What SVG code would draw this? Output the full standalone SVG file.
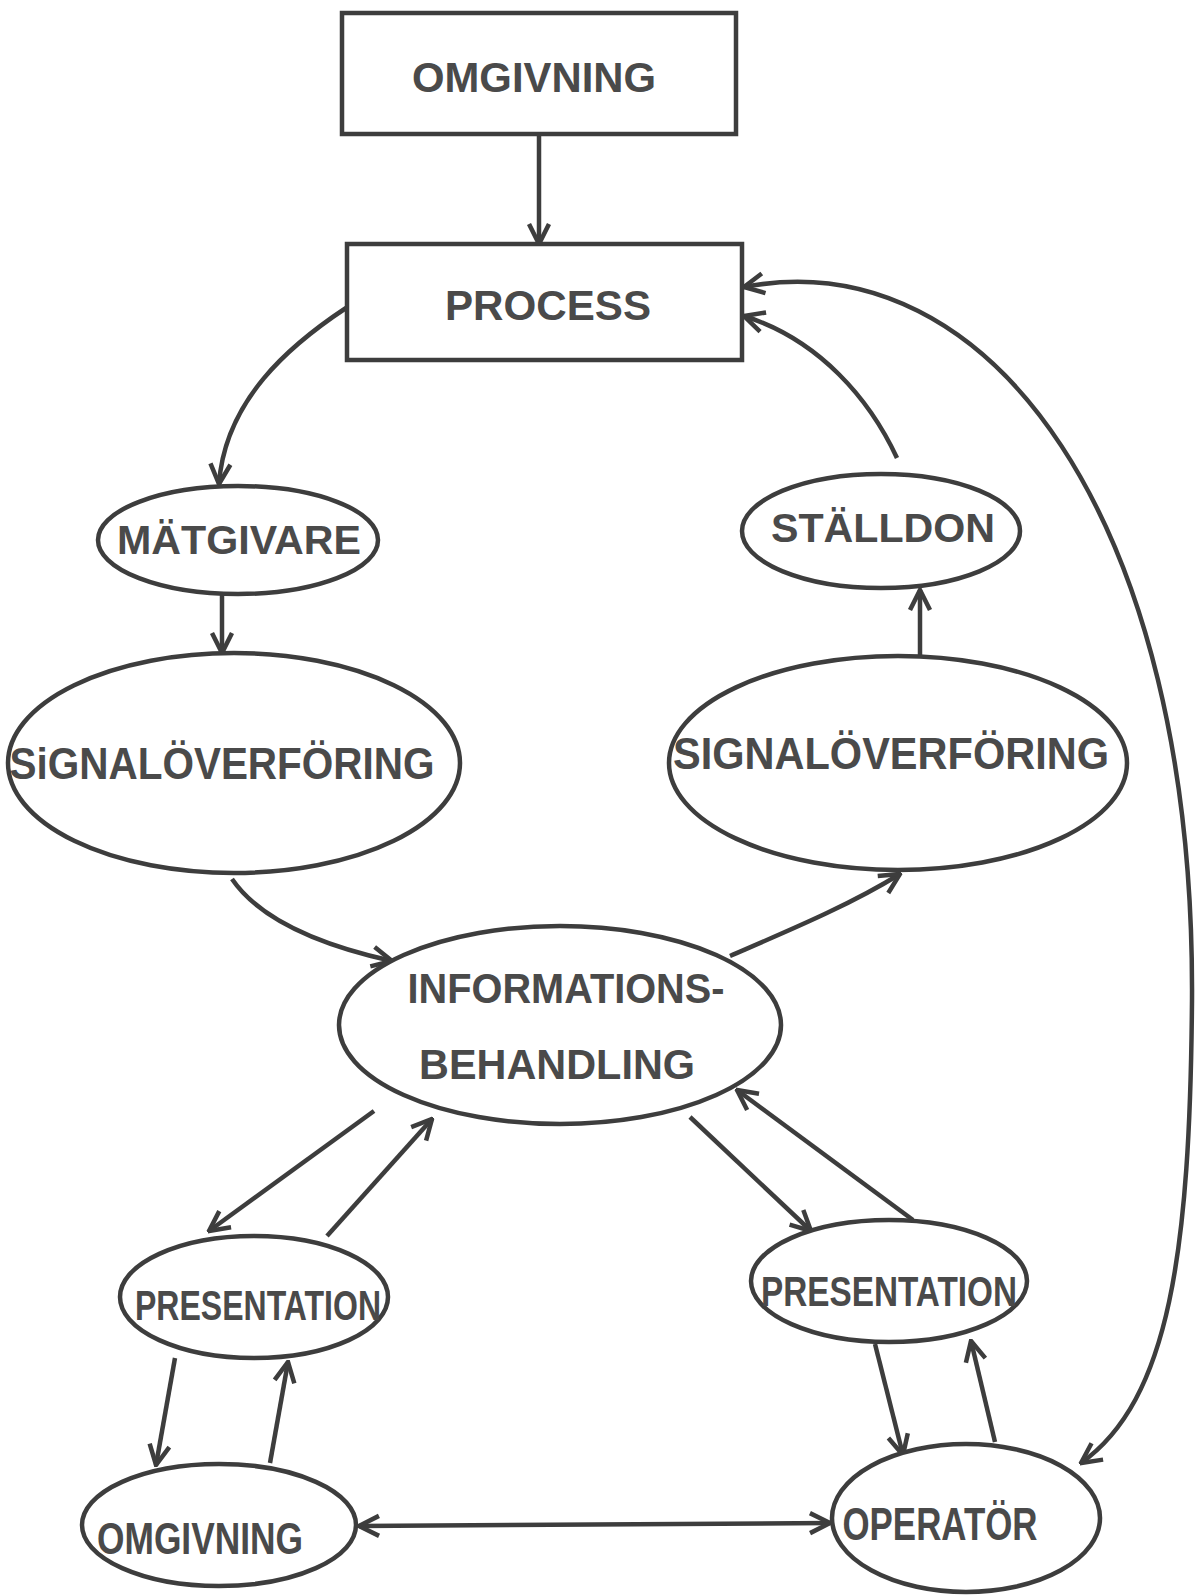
<svg xmlns="http://www.w3.org/2000/svg" width="1195" height="1595" viewBox="0 0 1195 1595">
<style>
.n{fill:#fff;stroke:#3d3d3d;stroke-width:4.5}
.t{font-family:"Liberation Sans",Arial,sans-serif;font-weight:bold;fill:#4a4a4a;text-anchor:middle}
.c{fill:none;stroke:#3d3d3d;stroke-width:4.5}
</style>
<defs>
<marker id="arr" viewBox="0 0 26 26" refX="24" refY="13" markerWidth="26" markerHeight="26" markerUnits="userSpaceOnUse" orient="auto-start-reverse">
<path d="M4,3 L24,13 L4,23" fill="none" stroke="#3d3d3d" stroke-width="4.5"/>
</marker>
</defs>
<rect width="1195" height="1595" fill="#fff"/>
<g id="connectors">
<path class="c" d="M539,134 L539,244" marker-end="url(#arr)"/>
<path class="c" d="M346,308 C290,345 225,400 219,484" marker-end="url(#arr)"/>
<path class="c" d="M222,595 L222,653" marker-end="url(#arr)"/>
<path class="c" d="M232,879 C260,920 320,945 392,961" marker-end="url(#arr)"/>
<path class="c" d="M730,956 C790,930 850,905 900,874" marker-end="url(#arr)"/>
<path class="c" d="M920,657 L920,590" marker-end="url(#arr)"/>
<path class="c" d="M897,458 C870,400 820,340 744,316" marker-end="url(#arr)"/>
<path class="c" d="M744,287 C990,240 1195,520 1192,1000 C1190,1250 1170,1400 1081,1463" marker-start="url(#arr)" marker-end="url(#arr)"/>
<path class="c" d="M374,1111 L209,1231" marker-end="url(#arr)"/>
<path class="c" d="M327,1236 L432,1119" marker-end="url(#arr)"/>
<path class="c" d="M690,1117 L811,1231" marker-end="url(#arr)"/>
<path class="c" d="M913,1220 L737,1090" marker-end="url(#arr)"/>
<path class="c" d="M175,1358 L156,1465" marker-end="url(#arr)"/>
<path class="c" d="M270,1463 L288,1362" marker-end="url(#arr)"/>
<path class="c" d="M875,1344 L903,1455" marker-end="url(#arr)"/>
<path class="c" d="M995,1442 L971,1341" marker-end="url(#arr)"/>
<path class="c" d="M359,1526 L830,1523" marker-start="url(#arr)" marker-end="url(#arr)"/>
</g>
<g id="omgivning-top">
<rect class="n" x="342" y="13" width="394" height="121"/>
<text class="t" x="534" y="92" font-size="42" textLength="244" lengthAdjust="spacingAndGlyphs">OMGIVNING</text>
</g>
<g id="process">
<rect class="n" x="347" y="244" width="395" height="116"/>
<text class="t" x="548" y="320" font-size="42" textLength="206" lengthAdjust="spacingAndGlyphs">PROCESS</text>
</g>
<g id="matgivare">
<ellipse class="n" cx="238" cy="540" rx="140" ry="54"/>
<text class="t" x="239" y="554" font-size="41" textLength="244" lengthAdjust="spacingAndGlyphs">MÄTGIVARE</text>
</g>
<g id="stalldon">
<ellipse class="n" cx="881" cy="531" rx="139" ry="57"/>
<text class="t" x="883" y="542" font-size="41" textLength="224" lengthAdjust="spacingAndGlyphs">STÄLLDON</text>
</g>
<g id="signal-left">
<ellipse class="n" cx="234" cy="763" rx="226" ry="110"/>
<text class="t" x="222" y="779" font-size="44" textLength="425" lengthAdjust="spacingAndGlyphs">SiGNALÖVERFÖRING</text>
</g>
<g id="signal-right">
<ellipse class="n" cx="898" cy="763" rx="229" ry="107"/>
<text class="t" x="891" y="769" font-size="44" textLength="436" lengthAdjust="spacingAndGlyphs">SIGNALÖVERFÖRING</text>
</g>
<g id="informationsbehandling">
<ellipse class="n" cx="560" cy="1025" rx="221" ry="99"/>
<text class="t" x="566" y="1003" font-size="42" textLength="317" lengthAdjust="spacingAndGlyphs">INFORMATIONS-</text>
<text class="t" x="557" y="1079" font-size="42" textLength="276" lengthAdjust="spacingAndGlyphs">BEHANDLING</text>
</g>
<g id="presentation-left">
<ellipse class="n" cx="254" cy="1297" rx="134" ry="61"/>
<text class="t" x="258" y="1320" font-size="42" textLength="246" lengthAdjust="spacingAndGlyphs">PRESENTATION</text>
</g>
<g id="presentation-right">
<ellipse class="n" cx="889" cy="1281" rx="138" ry="61"/>
<text class="t" x="889" y="1306" font-size="42" textLength="256" lengthAdjust="spacingAndGlyphs">PRESENTATION</text>
</g>
<g id="omgivning-bottom">
<ellipse class="n" cx="219" cy="1525" rx="137" ry="61"/>
<text class="t" x="200" y="1554" font-size="44" textLength="206" lengthAdjust="spacingAndGlyphs">OMGIVNING</text>
</g>
<g id="operator">
<ellipse class="n" cx="966" cy="1518" rx="134" ry="74"/>
<text class="t" x="940" y="1540" font-size="46" textLength="195" lengthAdjust="spacingAndGlyphs">OPERATÖR</text>
</g>
</svg>
